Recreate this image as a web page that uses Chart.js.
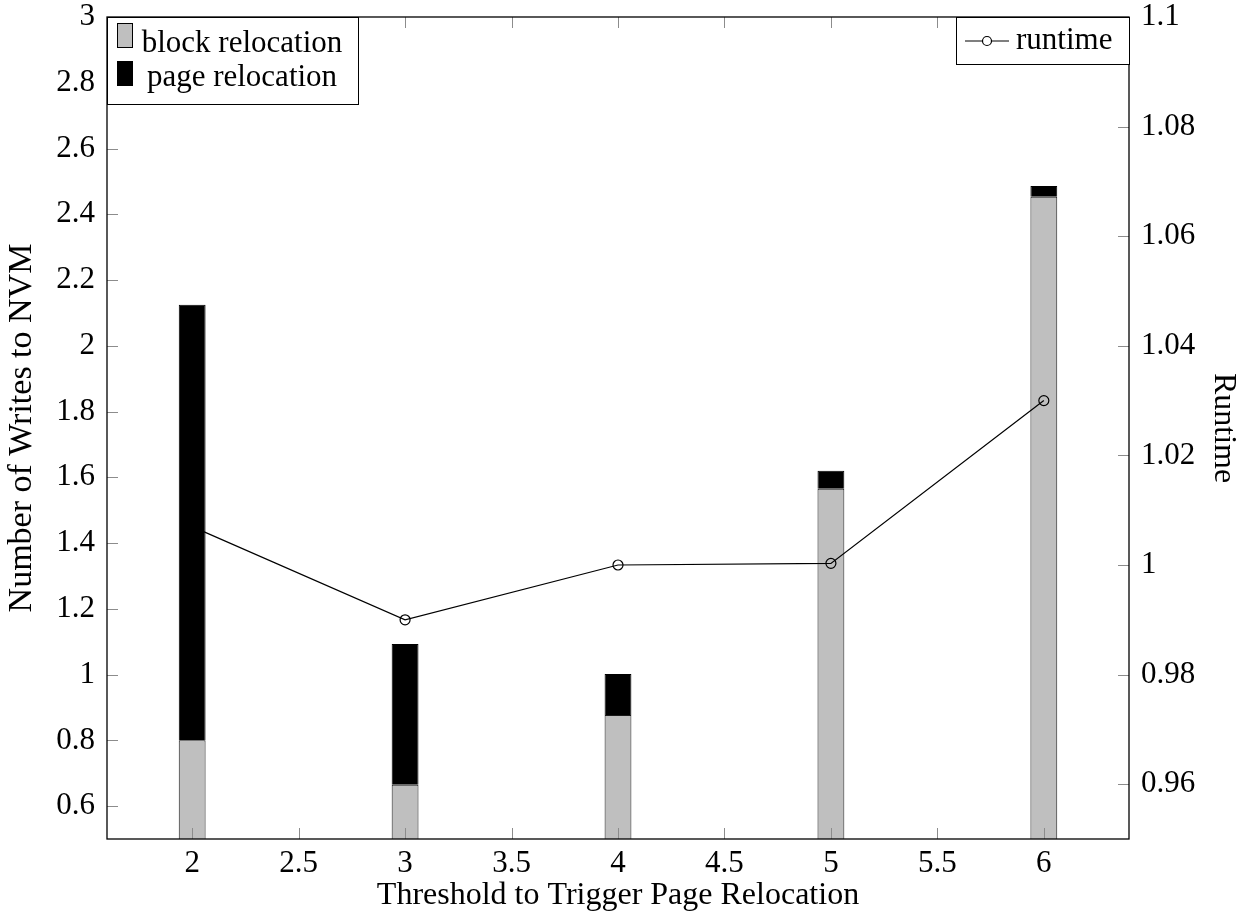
<!DOCTYPE html>
<html>
<head>
<meta charset="utf-8">
<title>Writes to NVM vs. relocation threshold</title>
<script src="https://cdn.jsdelivr.net/npm/chart.js@4.4.0/dist/chart.umd.min.js"></script>
<style>
  body { margin:0; background:#fff; }
</style>
</head>
<body>
<canvas id="myChart" width="1248" height="921"></canvas>
<script>
  // values
  var thresholds  = [2, 3, 4, 5, 6];
  var blockWrites = [0.80, 0.665, 0.877, 1.565, 2.453];
  var pageWrites  = [1.325, 0.428, 0.125, 0.055, 0.033];
  var runtime     = [1.007, 0.990, 1.000, 1.0003, 1.030];

  var xTicks     = [2, 2.5, 3, 3.5, 4, 4.5, 5, 5.5, 6];
  var leftTicks  = [0.6, 0.8, 1, 1.2, 1.4, 1.6, 1.8, 2, 2.2, 2.4, 2.6, 2.8, 3];
  var rightTicks = [0.96, 0.98, 1, 1.02, 1.04, 1.06, 1.08, 1.1];

  var serif = '"Liberation Serif", "Times New Roman", serif';
  Chart.defaults.font.family = serif;
  Chart.defaults.color = '#000';

  function points(xs, ys) {
    return xs.map(function(x, i) { return {x: x, y: ys[i]}; });
  }
  function fmt(v) { return String(parseFloat(v.toFixed(3))); }
  function setTicks(list) {
    return function(scale) {
      scale.ticks = list.map(function(v) { return {value: v}; });
    };
  }
  function vFit(w) {
    return function(s) { s.width = w; s.paddingTop = 0; s.paddingBottom = 0; };
  }

  // pgfplots style: ticks pointing into the plot, closed frame
  var innerTicks = {
    id: 'innerTicks',
    afterDatasetsDraw: function(chart) {
      var ctx = chart.ctx, a = chart.chartArea, s = chart.scales, len = 11;
      ctx.save();
      ctx.strokeStyle = '#8c8c8c';
      ctx.lineWidth = 1;
      ctx.beginPath();
      xTicks.forEach(function(v) {
        var px = Math.round(s.x.getPixelForValue(v)) + 0.5;
        ctx.moveTo(px, a.bottom); ctx.lineTo(px, a.bottom - len);
        ctx.moveTo(px, a.top);    ctx.lineTo(px, a.top + len);
      });
      leftTicks.forEach(function(v) {
        var py = Math.round(s.y.getPixelForValue(v)) + 0.5;
        ctx.moveTo(a.left, py); ctx.lineTo(a.left + len, py);
      });
      rightTicks.forEach(function(v) {
        var py = Math.round(s.y1.getPixelForValue(v)) + 0.5;
        ctx.moveTo(a.right, py); ctx.lineTo(a.right - len, py);
      });
      ctx.stroke();
      ctx.strokeStyle = '#000';
      ctx.lineWidth = 1.3;
      ctx.strokeRect(a.left, a.top, a.right - a.left, a.bottom - a.top);
      ctx.restore();
    }
  };

  // two legend boxes, as in the original figure
  var legendBoxes = {
    id: 'legendBoxes',
    afterDraw: function(chart) {
      var ctx = chart.ctx, a = chart.chartArea, ds = chart.data.datasets;
      ctx.save();
      ctx.font = '31px ' + serif;
      ctx.textBaseline = 'alphabetic';
      ctx.lineWidth = 1;

      // bars, top left
      var bx = a.left, by = a.top, bw = 251, bh = 87;
      ctx.fillStyle = '#fff';
      ctx.fillRect(bx, by, bw, bh);
      ctx.strokeStyle = '#000';
      ctx.strokeRect(bx + 0.5, by + 0.5, bw, bh);
      [ds[0], ds[1]].forEach(function(d, i) {
        var sy = by + 6 + i * 38;
        ctx.fillStyle = d.backgroundColor;
        ctx.fillRect(bx + 10, sy, 16, 25);
        ctx.strokeStyle = '#000';
        ctx.strokeRect(bx + 10.5, sy + 0.5, 15, 24);
        ctx.fillStyle = '#000';
        ctx.textAlign = 'center';
        ctx.fillText(d.label, bx + 135, by + 35 + i * 34);
      });

      // line, top right
      var rw = 173, rh = 47, rx = a.right - rw, ry = a.top;
      ctx.fillStyle = '#fff';
      ctx.fillRect(rx, ry, rw, rh);
      ctx.strokeStyle = '#000';
      ctx.strokeRect(rx + 0.5, ry + 0.5, rw, rh);
      var ly = ry + 24;
      ctx.lineWidth = 1.2;
      ctx.beginPath();
      ctx.moveTo(rx + 9, ly); ctx.lineTo(rx + 26.5, ly);
      ctx.moveTo(rx + 35.5, ly); ctx.lineTo(rx + 53, ly);
      ctx.stroke();
      ctx.beginPath();
      ctx.arc(rx + 31, ly, 4.5, 0, Math.PI * 2);
      ctx.stroke();
      ctx.fillStyle = '#000';
      ctx.textAlign = 'left';
      ctx.fillText(ds[2].label, rx + 60, ry + 32);
      ctx.restore();
    }
  };

  var tickFont = { family: serif, size: 31, lineHeight: 1 };
  var titleFont = { family: serif, size: 32, lineHeight: 1.2 };

  var ctx = document.getElementById('myChart').getContext('2d');
  var myChart = new Chart(ctx, {
    type: 'bar',
    data: {
      datasets: [
        {
          label: 'block relocation',
          data: points(thresholds, blockWrites),
          backgroundColor: '#bfbfbf',
          borderColor: '#1a1a1a',
          borderWidth: 1,
          yAxisID: 'y',
          order: 1
        },
        {
          label: 'page relocation',
          data: points(thresholds, pageWrites),
          backgroundColor: '#000000',
          borderColor: '#000000',
          borderWidth: 1,
          yAxisID: 'y',
          order: 1
        },
        {
          type: 'line',
          label: 'runtime',
          data: points(thresholds, runtime),
          borderColor: '#000',
          borderWidth: 1.2,
          pointRadius: 5,
          pointBorderWidth: 1.2,
          pointBackgroundColor: 'rgba(0,0,0,0)',
          pointBorderColor: '#000',
          fill: false,
          tension: 0,
          yAxisID: 'y1',
          order: 0
        }
      ]
    },
    options: {
      responsive: false,
      animation: false,
      layout: { padding: { top: 17, left: 0, right: 0, bottom: 0 } },
      // the ruler on a linear axis uses the 0.5 tick spacing
      datasets: { bar: { barPercentage: 0.252, categoryPercentage: 1 } },
      plugins: { legend: { display: false }, tooltip: { enabled: false } },
      scales: {
        x: {
          type: 'linear',
          stacked: true,
          offset: false,
          min: 1.6,
          max: 6.4,
          afterBuildTicks: setTicks(xTicks),
          afterFit: function(s) { s.height = 82; s.paddingLeft = 0; s.paddingRight = 0; },
          grid: { display: false, drawTicks: false, offset: false },
          border: { display: false },
          ticks: { color: '#000', padding: 9, maxRotation: 0, font: tickFont, callback: fmt },
          title: { display: true, text: 'Threshold to Trigger Page Relocation', color: '#000',
                   font: titleFont, padding: { top: 0, bottom: 6 } }
        },
        y: {
          position: 'left',
          stacked: true,
          min: 0.5,
          max: 3,
          afterBuildTicks: setTicks(leftTicks),
          afterFit: vFit(107),
          grid: { display: false, drawTicks: false },
          border: { display: false },
          ticks: { color: '#000', padding: 12, font: tickFont, callback: fmt },
          title: { display: true, text: 'Number of Writes to NVM', color: '#000',
                   font: { family: serif, size: 34, lineHeight: 1.2 }, padding: { top: 2, bottom: 0 } }
        },
        y1: {
          position: 'right',
          min: 0.95,
          max: 1.1,
          afterBuildTicks: setTicks(rightTicks),
          afterFit: vFit(119),
          grid: { display: false, drawTicks: false },
          border: { display: false },
          ticks: { color: '#000', padding: 12, font: tickFont, callback: fmt },
          title: { display: true, text: 'Runtime', color: '#000',
                   font: titleFont, padding: { top: 5, bottom: 0 } }
        }
      }
    },
    plugins: [innerTicks, legendBoxes]
  });
</script>
</body>
</html>
